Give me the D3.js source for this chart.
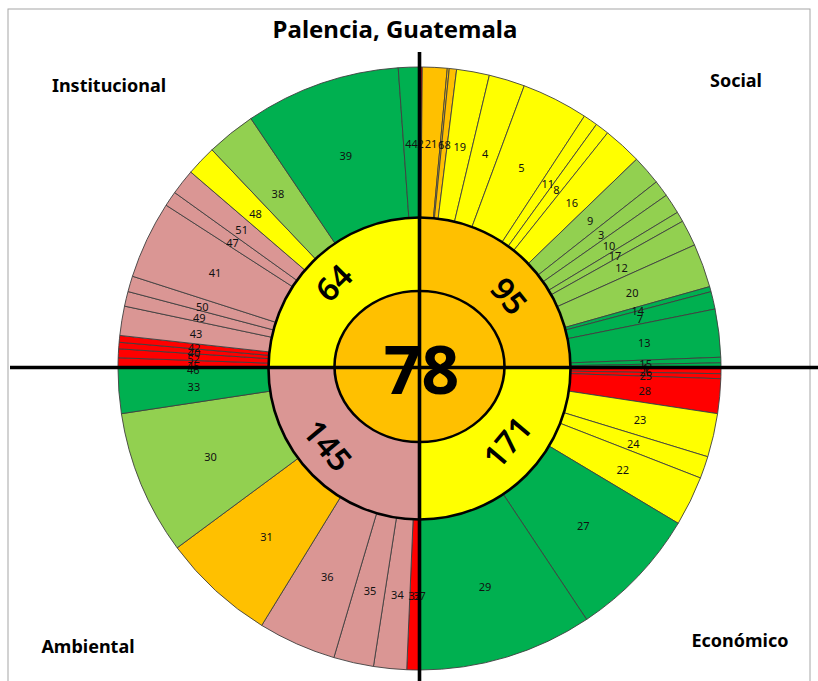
<!DOCTYPE html>
<html><head><meta charset="utf-8">
<script src="https://cdn.jsdelivr.net/npm/d3@7/dist/d3.min.js"></script>
<style>body{margin:0;background:#fff}svg{display:block}</style>
</head><body>
<svg id="chart" width="818" height="681"></svg>
<script>
// ---- data (indicator id, angular weight in degrees of its quadrant, level) ----
const socialIds     = [2, 21, 6, 18, 19, 4, 5, 11, 8, 16, 9, 3, 10, 17, 12, 20, 14, 7, 13, 15, 1];
const socialWeights = [0.53, 4.76, 0.38, 1.41, 6.32, 6.93, 12.83, 2.78, 2.66, 7.45, 5.72, 3.17, 3.87, 1.96, 5.05, 8.42, 1.0, 3.38, 9.24, 1.06, 1.08];
const socialLevels  = ["rojo","naranja","naranja","naranja","amarillo","amarillo","amarillo","amarillo","amarillo","amarillo","verdeClaro","verdeClaro","verdeClaro","verdeClaro","verdeClaro","verdeClaro","verde","verde","verde","verde","verde"];

const economicoIds     = [26, 25, 28, 23, 24, 22, 27, 29];
const economicoWeights = [1.0, 0.95, 6.67, 8.4, 4.27, 9.61, 25.44, 33.66];
const economicoLevels  = ["rojo","rojo","rojo","amarillo","amarillo","amarillo","verde","verde"];

const ambientalIds     = [37, 32, 34, 35, 36, 31, 30, 33];
const ambientalWeights = [0, 2.43, 6.36, 7.71, 15.06, 21.94, 27.88, 8.62];
const ambientalLevels  = ["rojo","rojo","rosa","rosa","rosa","naranja","verdeClaro","verde"];

const institucionalIds     = [46, 45, 52, 40, 42, 43, 49, 50, 41, 47, 51, 48, 38, 39, 44];
const institucionalWeights = [0, 2.04, 1.71, 1.25, 1.3, 5.64, 2.85, 3.03, 14.98, 2.9, 4.96, 5.84, 9.5, 29.95, 4.05];
const institucionalLevels  = ["rojo","rojo","rojo","rojo","rojo","rosa","rosa","rosa","rosa","rosa","rosa","amarillo","verdeClaro","verde","verde"];

const dimensionNames  = ["Social", "Económico", "Ambiental", "Institucional"];
const dimensionScores = [95, 171, 145, 64];
const dimensionLevels = ["naranja", "amarillo", "rosa", "amarillo"];

const overallScore = 78;
const overallLevel = "naranja";
const chartTitle = "Palencia, Guatemala";

// ---- colours ----
const levelColor = d3.scaleOrdinal()
  .domain(["rojo","naranja","amarillo","verdeClaro","verde","rosa"])
  .range(["#FF0000","#FFC000","#FFFF00","#92D050","#00B050","#DA9694"]);

// ---- layout ----
const svg = d3.select("#chart");
const cx = 419.5, cy = 368.5;
const rOuter = 301.5, rMid = 151, rCenterX = 85, rCenterY = 75.5;
// placement of the rotated dimension scores (degrees clockwise from top, radius)
const scoreLabelAngle  = [51, 130, 230, 315];
const scoreLabelRadius = [116, 114, 119, 122];

svg.append("rect").attr("x", 8).attr("y", 9).attr("width", 802).attr("height", 700)
  .attr("fill", "#fff").attr("stroke", "#a6a6a6").attr("stroke-width", 1);

function build(ids, ws, lv) { return ids.map((id, i) => ({id, w: ws[i], level: lv[i]})); }
const indicators = [].concat(
  build(socialIds, socialWeights, socialLevels),
  build(economicoIds, economicoWeights, economicoLevels),
  build(ambientalIds, ambientalWeights, ambientalLevels),
  build(institucionalIds, institucionalWeights, institucionalLevels)
);

const g = svg.append("g").attr("transform", `translate(${cx},${cy})`);

const pieOuter = d3.pie().sort(null).value(d => d.w);
const arcOuter = d3.arc().innerRadius(rMid).outerRadius(rOuter);
const outerArcs = pieOuter(indicators);

g.append("g").selectAll("path").data(outerArcs).join("path")
  .attr("d", arcOuter)
  .attr("fill", d => levelColor(d.data.level))
  .attr("stroke", "#404040").attr("stroke-width", 0.9);

g.append("g").selectAll("text").data(outerArcs).join("text")
  .attr("transform", d => `translate(${arcOuter.centroid(d)})`)
  .attr("text-anchor", "middle").attr("dominant-baseline", "central")
  .attr("dy", "0.1em")
  .style("font-family", "'Noto Sans', 'Open Sans', sans-serif").style("font-size", "11px")
  .attr("fill", "#111")
  .text(d => d.data.id);

// inner ring (dimensions)
const dims = dimensionNames.map((n, i) => ({name: n, score: dimensionScores[i], level: dimensionLevels[i]}));
const pieInner = d3.pie().sort(null).value(() => 1);
const arcInner = d3.arc().innerRadius(0).outerRadius(rMid);
const innerArcs = pieInner(dims);

g.append("g").selectAll("path").data(innerArcs).join("path")
  .attr("d", arcInner)
  .attr("fill", d => levelColor(d.data.level))
  .attr("stroke", "none");
g.append("circle").attr("r", rMid).attr("fill", "none").attr("stroke", "#000").attr("stroke-width", 2.6);

// cross lines
svg.append("line").attr("x1", cx).attr("x2", cx).attr("y1", 52).attr("y2", 690)
  .attr("stroke", "#000").attr("stroke-width", 3.6);
svg.append("line").attr("x1", 10).attr("x2", 818).attr("y1", cy - 1).attr("y2", cy - 1)
  .attr("stroke", "#000").attr("stroke-width", 3.6);

// center
g.append("ellipse").attr("cx", 0).attr("cy", -2).attr("rx", rCenterX).attr("ry", rCenterY)
  .attr("fill", levelColor(overallLevel)).attr("stroke", "#000").attr("stroke-width", 2.6);

g.append("text").attr("x", 2).attr("y", -1)
  .attr("text-anchor", "middle").attr("dominant-baseline", "central")
  .style("font-family", "'Noto Sans', sans-serif").style("font-weight", "700").style("font-size", "66px")
  .text(overallScore);

g.append("g").selectAll("text").data(innerArcs).join("text")
  .attr("transform", (d, i) => {
    let a = scoreLabelAngle[i];
    const rad = a * Math.PI / 180, r = scoreLabelRadius[i];
    const x = r * Math.sin(rad), y = -r * Math.cos(rad);
    if (a > 90 && a < 270) a -= 180;
    return `translate(${x},${y}) rotate(${a})`;
  })
  .attr("text-anchor", "middle").attr("dominant-baseline", "central")
  .style("font-family", "'Noto Sans', sans-serif").style("font-weight", "600").style("font-size", "32px")
  .text(d => d.data.score);

// titles
svg.append("text").attr("x", 395).attr("y", 28)
  .attr("text-anchor", "middle").attr("dominant-baseline", "central")
  .style("font-family", "'Noto Sans', sans-serif").style("font-weight", "700").style("font-size", "24px")
  .text(chartTitle);

const quadrantLabelPos = [[736, 80], [740, 640], [88, 646], [109, 85]];
svg.append("g").selectAll("text").data(dimensionNames).join("text")
  .attr("x", (d, i) => quadrantLabelPos[i][0]).attr("y", (d, i) => quadrantLabelPos[i][1])
  .attr("text-anchor", "middle").attr("dominant-baseline", "central")
  .style("font-family", "'Noto Sans', sans-serif").style("font-weight", "700").style("font-size", "18px")
  .text(d => d);
</script>
</body></html>
